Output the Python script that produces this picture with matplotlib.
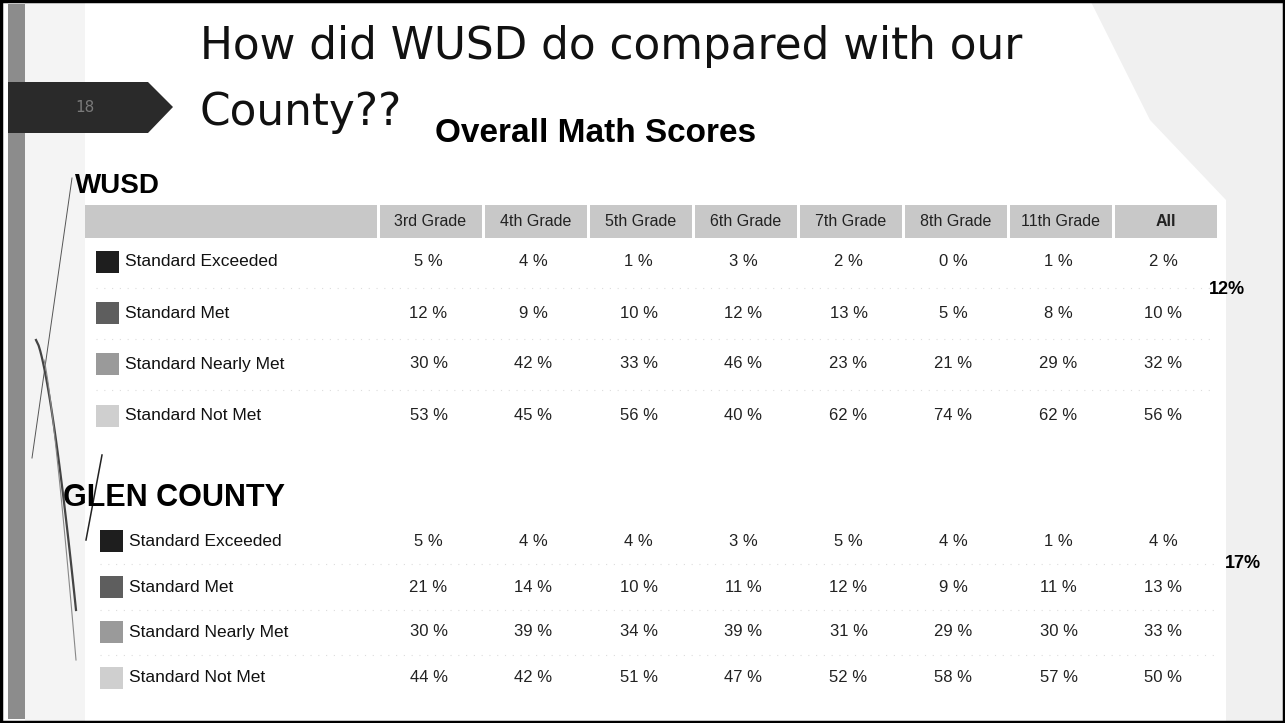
import matplotlib.pyplot as plt
from matplotlib.patches import Rectangle, Polygon
import numpy as np

# table data
grades = ['3rd Grade', '4th Grade', '5th Grade', '6th Grade', '7th Grade',
          '8th Grade', '11th Grade', 'All']
levels = ['Standard Exceeded', 'Standard Met', 'Standard Nearly Met', 'Standard Not Met']
level_colors = ['#1e1e1e', '#5e5e5e', '#9a9a9a', '#cfcfcf']

wusd = [
    [5, 4, 1, 3, 2, 0, 1, 2],
    [12, 9, 10, 12, 13, 5, 8, 10],
    [30, 42, 33, 46, 23, 21, 29, 32],
    [53, 45, 56, 40, 62, 74, 62, 56],
]
glen = [
    [5, 4, 4, 3, 5, 4, 1, 4],
    [21, 14, 10, 11, 12, 9, 11, 13],
    [30, 39, 34, 39, 31, 29, 30, 33],
    [44, 42, 51, 47, 52, 58, 57, 50],
]
wusd_met_total = '12%'
glen_met_total = '17%'

title_lines = ['How did WUSD do compared with our', 'County??']
subtitle = 'Overall Math Scores'

W, H = 1285, 723
fig = plt.figure(figsize=(W / 100, H / 100), dpi=100)
ax = fig.add_axes([0, 0, 1, 1])
ax.set_xlim(0, W)
ax.set_ylim(H, 0)
ax.axis('off')

# slide background bits
ax.add_patch(Polygon([(1090, 0), (W, 0), (W, H), (1226, H), (1226, 200), (1150, 120)],
                     closed=True, color='#f0f0f0', lw=0))
ax.add_patch(Rectangle((25, 0), 60, H, color='#f4f4f4', lw=0))
ax.add_patch(Rectangle((8, 4), 17, H - 8, color='#8c8c8c', lw=0))
ax.add_patch(Polygon([(8, 82), (148, 82), (173, 107), (148, 133), (8, 133)],
                     closed=True, color='#2a2a2a', lw=0))
ax.text(85, 107, '18', color='#7a7a7a', fontsize=11, ha='center', va='center')

# decorative swooshes on the left
t = np.linspace(0, 1, 50)
ax.plot(72 - 40 * t, 178 + 280 * t, color='#555', lw=0.7)
ax.plot(36 + 40 * t ** 0.7, 340 + 270 * t, color='#444', lw=1.6)
ax.plot(44 + 32 * t ** 0.8, 360 + 300 * t, color='#888', lw=0.8)
ax.plot(102 - 16 * t, 455 + 85 * t, color='#222', lw=1.1)

# titles
ax.text(200, 47, title_lines[0], fontsize=31.5, family='DejaVu Sans', color='#111',
        ha='left', va='center')
ax.text(200, 112, title_lines[1], fontsize=31.5, family='DejaVu Sans', color='#111',
        ha='left', va='center')
ax.text(435, 133, subtitle, fontsize=24, fontweight='bold',
        family=['Liberation Sans Narrow', 'Liberation Sans'], ha='left', va='center')

ax.text(75, 186, 'WUSD', fontsize=20, fontweight='bold', family='Liberation Sans',
        ha='left', va='center')
ax.text(63, 498, 'GLEN COUNTY', fontsize=22, fontweight='bold', family='Liberation Sans',
        ha='left', va='center')

# table geometry
col0_left, col0_right, col_w = 85, 378, 105
centers = [col0_right + col_w * (i + 0.5) for i in range(len(grades))]

# header band
ax.add_patch(Rectangle((col0_left, 205), col0_right - col0_left - 1.5, 33,
                       color='#c8c8c8', lw=0))
for i, g in enumerate(grades):
    ax.add_patch(Rectangle((col0_right + col_w * i + 1.5, 205), col_w - 3, 33,
                           color='#c8c8c8', lw=0))
    ax.text(centers[i], 221, g, fontsize=11.5, family='Liberation Sans',
            fontweight='bold' if g == 'All' else 'normal', color='#222',
            ha='center', va='center')


def draw_rows(rows_y, data, sq_x):
    step = rows_y[1] - rows_y[0]
    for r, (lvl, y) in enumerate(zip(levels, rows_y)):
        ax.add_patch(Rectangle((sq_x, y - 11), 23, 22, color=level_colors[r], lw=0))
        ax.text(sq_x + 29, y, lvl, fontsize=12.5, family='Liberation Sans',
                color='#111', ha='left', va='center')
        for i, v in enumerate(data[r]):
            ax.text(centers[i] - 2, y, f'{v} %', fontsize=12, family='Liberation Sans',
                    color='#222', ha='center', va='center')
        if r < len(levels) - 1:
            ax.plot([sq_x, 1215], [y + step / 2] * 2,
                    color='#dddddd', lw=0.8, ls=(0, (1, 6)))


wusd_y = [262, 313, 364, 416]
glen_y = [541, 587, 632, 678]
draw_rows(wusd_y, wusd, 96)
draw_rows(glen_y, glen, 100)

ax.text(1227, 290, wusd_met_total, fontsize=13, fontweight='bold',
        family='Liberation Sans', ha='center', va='center')
ax.text(1243, 564, glen_met_total, fontsize=13, fontweight='bold',
        family='Liberation Sans', ha='center', va='center')

# scan frame
ax.add_patch(Rectangle((1, 1), W - 2, H - 2, fill=False, ec='black', lw=2.5))

fig.savefig('out.png', dpi=100)
